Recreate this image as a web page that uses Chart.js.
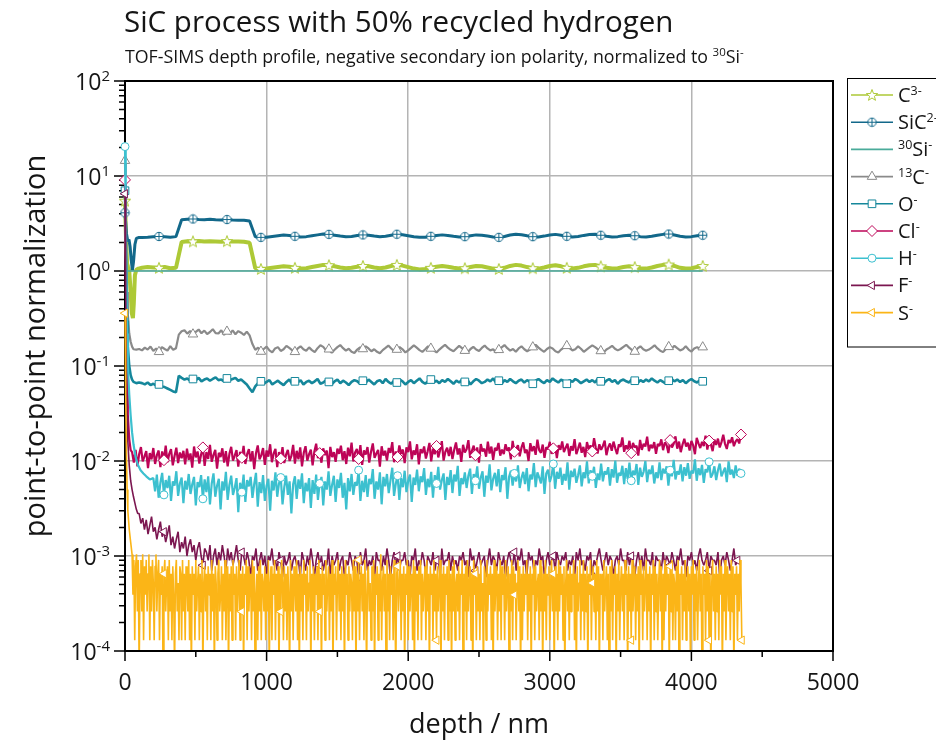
<!DOCTYPE html>
<html>
<head>
<meta charset="utf-8">
<script src="https://cdn.jsdelivr.net/npm/chart.js@4.4.1/dist/chart.umd.min.js"></script>
<style>
    html, body { margin: 0; background: #fff; }
    canvas { display: block; }
</style>
</head>
<body>
<canvas id="chart" width="936" height="743" style="width:936px;height:743px"></canvas>
<script>
// TOF-SIMS depth profile

const xTickValues = [0, 1000, 2000, 3000, 4000, 5000];
const xMinorValues = [500, 1500, 2500, 3500, 4500];
const yTickValues = [1e-4, 1e-3, 1e-2, 1e-1, 1, 10, 100];
const yTickExponents = ['-4', '-3', '-2', '-1', '0', '1', '2'];

// near-surface part of every profile: depth (nm) and ratio
const c3SurfDepth = [0, 8, 15, 22, 30, 40, 48, 56, 62, 70, 80, 95];
const c3SurfValue = [5.5, 2.0, 1.2, 1.1, 1.0, 0.6, 0.36, 0.32, 0.45, 0.9, 1.03, 1.06];
const sicSurfDepth = [0, 10, 20, 28, 36, 44, 52, 60, 70, 80, 95];
const sicSurfValue = [4.1, 2.5, 2.05, 2.15, 1.8, 1.3, 1.02, 1.25, 1.9, 2.2, 2.25];
const si30Depth = [0, 4080];
const si30Value = [1, 1];
const c13SurfDepth = [0, 5, 10, 15, 20, 30, 40, 50, 60, 80, 100];
const c13SurfValue = [14.5, 4, 1.3, 0.6, 0.35, 0.22, 0.18, 0.16, 0.15, 0.149, 0.151];
const oSurfDepth = [0, 5, 10, 15, 20, 30, 40, 50, 60, 80, 100];
const oSurfValue = [7.0, 2.2, 0.7, 0.3, 0.16, 0.1, 0.08, 0.072, 0.068, 0.066, 0.067];
const clSurfDepth = [0, 5, 10, 15, 20, 30, 40];
const clSurfValue = [9.1, 1.2, 0.25, 0.07, 0.03, 0.017, 0.013];
const hSurfDepth = [0, 5, 10, 15, 20, 30, 40, 50, 60, 75, 90, 110, 130, 150, 175];
const hSurfValue = [20.4, 4, 0.8, 0.22, 0.1, 0.05, 0.03, 0.02, 0.015, 0.011, 0.0092, 0.008, 0.0074, 0.0069, 0.0064];
const fSurfDepth = [0, 5, 10, 15, 20, 30, 40, 50, 60, 70, 80, 90];
const fSurfValue = [6.5, 0.6, 0.08, 0.03, 0.016, 0.009, 0.0062, 0.005, 0.0042, 0.0036, 0.0031, 0.0028];
const sSurfDepth = [0, 5, 10, 15, 20, 30, 40];
const sSurfValue = [0.36, 0.05, 0.012, 0.005, 0.003, 0.0019, 0.0014];

// bulk part, one value per sputter cycle
// C3- and SiC2-: from 120 nm every 40 nm
const c3Bulk = [
    1.08, 1.10, 1.09, 1.08, 1.10, 1.07, 1.08,
    2.02, 2.06, 2.05, 2.07, 2.04, 2.06, 2.05, 2.03, 2.06, 2.04, 2.05, 2.03, 1.98,
    1.07, 1.05, 1.06, 1.08, 1.10, 1.12, 1.11, 1.08, 1.06, 1.07,
    1.10, 1.13, 1.16, 1.15, 1.12, 1.09, 1.07, 1.08, 1.11, 1.13,
    1.12, 1.09, 1.07, 1.09, 1.13, 1.16, 1.14, 1.10, 1.06, 1.04,
    1.05, 1.08, 1.11, 1.13, 1.11, 1.08, 1.06, 1.07, 1.10, 1.13,
    1.12, 1.09, 1.06, 1.05, 1.08, 1.13, 1.16, 1.14, 1.10, 1.07,
    1.06, 1.09, 1.13, 1.15, 1.12, 1.08, 1.06, 1.08, 1.12, 1.15,
    1.16, 1.12, 1.08, 1.06, 1.07, 1.10, 1.12, 1.10, 1.07, 1.06,
    1.09, 1.13, 1.16, 1.17, 1.13, 1.08, 1.06, 1.07, 1.10, 1.13
];
const sicBulk = [
    2.25, 2.27, 2.30, 2.31, 2.29, 2.26, 2.30,
    3.46, 3.50, 3.53, 3.49, 3.47, 3.51, 3.46, 3.45, 3.48, 3.44, 3.43, 3.42, 3.36,
    2.29, 2.26, 2.27, 2.31, 2.35, 2.39, 2.37, 2.32, 2.28, 2.30,
    2.35, 2.40, 2.45, 2.43, 2.38, 2.33, 2.29, 2.31, 2.36, 2.40,
    2.38, 2.33, 2.29, 2.32, 2.38, 2.44, 2.41, 2.35, 2.29, 2.26,
    2.27, 2.32, 2.37, 2.40, 2.37, 2.32, 2.28, 2.30, 2.35, 2.40,
    2.38, 2.33, 2.28, 2.26, 2.31, 2.39, 2.44, 2.41, 2.35, 2.30,
    2.28, 2.33, 2.39, 2.43, 2.38, 2.32, 2.28, 2.31, 2.37, 2.42,
    2.44, 2.38, 2.32, 2.28, 2.30, 2.35, 2.38, 2.35, 2.30, 2.28,
    2.32, 2.38, 2.43, 2.45, 2.39, 2.32, 2.28, 2.30, 2.35, 2.38
];
// 13C- and O-: from 120 nm every 20 nm, in units of 1e-3
const c13Bulk = [
    146, 156, 149, 160, 144, 153, 141, 158, 151, 145, 162, 148, 154,
    214, 232, 238, 219, 234, 216, 229, 242, 221, 236, 217, 228, 244, 222, 220, 238, 213, 231, 218, 237, 216, 233, 224, 212, 230, 210,
    170, 148, 156, 142, 151, 160, 146, 139, 153, 158, 144, 150, 163, 155, 147, 141, 153, 161, 150, 145,
    157, 147, 140, 154, 165, 159, 146, 150, 138, 148, 158, 166, 154, 145, 152, 141, 137, 149, 157, 151,
    161, 153, 143, 150, 141, 136, 147, 155, 164, 153, 144, 149, 158, 150, 139, 146, 155, 165, 156, 147,
    141, 150, 161, 153, 146, 139, 149, 158, 167, 156, 148, 143, 153, 163, 154, 145, 139, 151, 159, 149,
    144, 155, 164, 153, 146, 150, 139, 148, 157, 166, 154, 145, 151, 141, 153, 161, 150, 143, 149, 158,
    167, 156, 148, 141, 151, 158, 153, 143, 139, 149, 157, 163, 154, 146, 150, 161, 152, 141, 149, 157,
    165, 158, 150, 144, 139, 149, 155, 163, 152, 146, 151, 159, 167, 156, 148, 142, 153, 161, 150, 145,
    149, 156, 165, 153, 145, 140, 151, 159, 152, 163, 154, 146, 150, 161, 149, 142, 153, 158, 151, 158
];
const oBulk = [
    66, 64, 67, 63, 65, 62, 64, 61, 60, 58, 56, 54, 53,
    79, 75, 72, 74, 70, 73, 71, 75, 69, 72, 74, 70, 73, 76, 71, 72, 69, 74, 71, 73, 75, 70, 72, 68, 64, 58,
    53, 61, 66, 69, 65, 68, 71, 64, 67, 70, 66, 63, 68, 72, 65, 69, 67, 71, 64, 68,
    70, 66, 69, 73, 65, 67, 71, 68, 64, 69, 72, 66, 70, 67, 63, 68, 71, 69, 65, 70,
    67, 72, 68, 64, 69, 71, 66, 73, 68, 65, 70, 67, 72, 69, 64, 68, 71, 66, 70, 74,
    68, 65, 69, 72, 67, 70, 66, 71, 68, 73, 69, 65, 70, 67, 72, 68, 71, 64, 69, 73,
    70, 66, 68, 72, 69, 74, 67, 70, 65, 71, 68, 73, 69, 66, 70, 72, 67, 71, 68, 65,
    70, 73, 69, 66, 71, 68, 74, 70, 67, 72, 69, 65, 71, 68, 73, 70, 66, 69, 72, 68,
    71, 67, 74, 69, 66, 70, 73, 68, 71, 65, 70, 72, 69, 67, 73, 70, 66, 71, 68, 72,
    69, 74, 70, 67, 71, 68, 65, 70, 73, 69, 72, 68, 71, 66, 70, 73, 69, 67, 71, 69
];
// Cl-: from 50 nm every 12.5 nm, units of 1e-4
const clBulk = [
    124, 96, 131, 88, 118, 140, 99, 112, 127, 84, 121, 104, 137, 93, 115, 129, 86, 126, 102, 145, 97, 119, 133, 90, 113, 138, 95, 123, 107, 128,
    92, 135, 103, 120, 85, 142, 109, 126, 94, 117, 139, 89, 124, 105, 148, 98, 116, 131, 83, 122, 110, 136, 96, 127, 88, 119, 141, 101, 114, 130,
    87, 125, 108, 144, 93, 118, 133, 99, 127, 82, 121, 146, 104, 115, 137, 91, 129, 111, 150, 97, 120, 134, 86, 124, 106, 140, 95, 117, 131, 100,
    113, 148, 94, 128, 104, 139, 88, 122, 143, 101, 118, 132, 90, 126, 152, 107, 121, 96, 136, 115, 129, 84, 141, 110, 124, 98, 135, 119, 145, 102,
    127, 93, 138, 112, 156, 99, 123, 134, 105, 147, 91, 129, 117, 140, 96, 125, 153, 108, 120, 131, 87, 143, 114, 128, 101, 137, 122, 158, 97, 126,
    110, 146, 119, 132, 95, 139, 124, 161, 104, 129, 116, 150, 92, 133, 121, 142, 106, 127, 155, 99, 135, 118, 144, 109, 130, 162, 101, 125, 138, 113,
    141, 105, 131, 157, 117, 136, 98, 148, 123, 133, 166, 108, 128, 145, 115, 139, 96, 151, 126, 135, 111, 160, 120, 142, 103, 137, 129, 155, 114, 132,
    118, 150, 128, 139, 104, 163, 125, 134, 147, 112, 138, 157, 121, 132, 100, 154, 127, 143, 116, 168, 130, 122, 149, 108, 140, 133, 159, 119, 136, 145,
    107, 147, 131, 161, 124, 138, 152, 113, 143, 129, 170, 118, 135, 156, 122, 141, 110, 158, 133, 146, 126, 174, 137, 120, 150, 131, 144, 164, 115, 139,
    153, 128, 160, 136, 118, 149, 141, 177, 125, 146, 133, 163, 121, 155, 139, 145, 114, 167, 131, 152, 142, 180, 127, 148, 136, 158, 119, 151, 144, 169,
    130, 157, 147, 121, 166, 139, 152, 182, 135, 160, 124, 149, 171, 142, 156, 129, 163, 146, 118, 175, 153, 137, 159, 144, 185, 132, 164, 150, 127, 168,
    148, 172, 139, 158, 189, 151, 134, 166, 155, 178, 143, 161, 170, 153, 190
];
// H-: from 200 nm every 12.5 nm, units of 1e-4
const hBulk = [
    66, 48, 72, 41, 59, 75, 44, 63, 52, 70, 38, 61, 55, 78, 43, 58, 67, 36, 62, 50, 73, 45, 57, 68, 34, 60, 53, 71, 40, 64,
    47, 69, 35, 58, 74, 42, 55, 65, 31, 61, 49, 77, 39, 56, 70, 44, 52, 66, 29, 59, 47, 72, 37, 63, 54, 68, 41, 57, 75, 33,
    60, 46, 71, 38, 55, 65, 30, 62, 49, 76, 42, 58, 67, 35, 53, 70, 44, 61, 28, 57, 69, 40, 64, 51, 74, 36, 59, 48, 66, 32,
    63, 45, 72, 39, 58, 68, 34, 61, 50, 78, 43, 56, 70, 37, 64, 52, 75, 41, 59, 31, 66, 48, 73, 44, 60, 55, 80, 38, 62, 47,
    71, 42, 65, 57, 82, 40, 61, 50, 76, 35, 68, 54, 73, 46, 63, 85, 43, 58, 70, 39, 66, 53, 79, 47, 62, 72, 37, 67, 56, 81,
    48, 69, 60, 84, 44, 65, 53, 77, 41, 71, 58, 87, 50, 63, 74, 39, 68, 56, 80, 46, 72, 61, 89, 43, 66, 57, 76, 52, 70, 83,
    45, 73, 62, 88, 51, 67, 78, 42, 70, 59, 92, 49, 65, 75, 54, 82, 47, 71, 63, 86, 40, 68, 79, 55, 74, 61, 90, 52, 66, 77,
    57, 84, 48, 72, 64, 95, 53, 76, 67, 58, 88, 45, 74, 81, 60, 70, 93, 51, 77, 65, 85, 56, 73, 62, 97, 50, 79, 68, 83, 59,
    71, 90, 54, 76, 66, 99, 58, 80, 69, 87, 52, 74, 63, 94, 61, 78, 72, 86, 55, 82, 67, 101, 59, 75, 70, 89, 57, 84, 65, 96,
    62, 79, 71, 93, 56, 85, 68, 77, 100, 60, 81, 73, 90, 58, 76, 66, 97, 63, 83, 74, 88, 55, 80, 69, 103, 64, 78, 72, 92, 61,
    86, 70, 95, 65, 79, 74, 104, 62, 84, 71, 91, 59, 82, 76, 98, 67, 73, 88, 63, 80, 94, 69, 77, 85, 60, 99, 72, 81, 66, 90,
    70, 83, 74
];
// F-: from 100 nm every 12.5 nm, units of 1e-4
const fBulk = [
    28, 22, 25, 19, 24, 17, 21, 26, 18, 20, 15, 19, 23, 16, 18, 14, 17, 21, 13, 16, 12, 15, 18, 11, 14, 12, 16, 10, 13, 15,
    11, 13, 9, 12, 14, 10, 8, 12, 11, 9, 13, 7, 10, 12, 8, 11, 9, 13, 10, 7, 12, 9, 11, 8, 10, 13, 9, 7, 11, 10,
    8, 11, 9, 6, 10, 9, 12, 7, 9, 11, 8, 10, 6, 10, 9, 12, 8, 9, 7, 11, 9, 6, 10, 8, 9, 11, 7, 9, 10, 8,
    9, 6, 11, 9, 7, 10, 8, 12, 9, 6, 9, 11, 8, 10, 7, 9, 8, 12, 6, 10, 8, 9, 11, 7, 9, 10, 6, 9, 8, 11,
    9, 7, 10, 9, 6, 11, 8, 9, 12, 7, 9, 8, 10, 6, 11, 9, 9, 7, 10, 8, 12, 9, 6, 9, 11, 8, 10, 7, 9, 9,
    11, 8, 9, 6, 10, 9, 12, 7, 9, 8, 11, 9, 6, 10, 9, 8, 11, 7, 9, 10, 6, 12, 8, 9, 9, 11, 7, 10, 8, 9,
    7, 10, 9, 11, 8, 9, 6, 12, 9, 10, 7, 9, 11, 8, 9, 10, 6, 9, 12, 8, 10, 9, 7, 11, 9, 8, 10, 6, 9, 11,
    9, 8, 11, 7, 10, 9, 12, 8, 9, 6, 11, 9, 10, 7, 9, 8, 12, 9, 10, 6, 9, 11, 8, 9, 10, 7, 11, 9, 8, 10,
    9, 11, 7, 9, 8, 10, 6, 11, 9, 12, 8, 9, 7, 10, 9, 11, 6, 9, 8, 10, 12, 9, 7, 9, 11, 8, 10, 9, 6, 9,
    10, 8, 12, 9, 9, 7, 11, 8, 10, 9, 6, 9, 11, 8, 10, 7, 12, 9, 9, 8, 11, 6, 10, 9, 9, 7, 11, 8, 10, 9,
    8, 11, 9, 7, 10, 9, 12, 8, 9, 6, 10, 9, 11, 8, 9, 7, 10, 12, 9, 8, 9, 11, 7, 10, 9, 9, 8, 11, 6, 9,
    10, 8, 11, 9, 7, 9, 12, 8, 9
];
// S-: from 50 nm every 6.25 nm, in counts of 1.3e-4 (0 = nothing detected)
const sBulk = [
    8, 3, 7, 1, 6, 8, 2, 7, 0, 5, 7, 2, 8, 1, 6, 3, 7, 2, 5, 8, 1, 6, 2, 7, 4, 1, 6, 8, 2, 5,
    7, 1, 5, 3, 6, 0, 5, 7, 2, 4, 6, 1, 7, 2, 5, 1, 6, 3, 0, 5, 7, 2, 4, 1, 6, 5, 1, 7, 2, 5,
    1, 6, 4, 2, 7, 1, 5, 0, 6, 3, 5, 1, 7, 2, 4, 6, 1, 5, 2, 7, 0, 4, 6, 2, 5, 1, 6, 3, 5, 1,
    7, 2, 5, 0, 6, 4, 1, 5, 7, 2, 3, 6, 1, 5, 2, 7, 1, 4, 6, 0, 5, 2, 6, 1, 7, 3, 5, 1, 6, 2,
    4, 7, 1, 5, 2, 6, 0, 5, 3, 7, 1, 6, 2, 4, 5, 1, 7, 2, 6, 0, 3, 5, 1, 6, 2, 7, 1, 5, 4, 2,
    6, 1, 5, 2, 7, 0, 4, 6, 1, 5, 3, 7, 1, 5, 2, 6, 0, 5, 2, 7, 4, 1, 6, 2, 5, 1, 6, 3, 0, 7,
    2, 5, 1, 6, 4, 2, 7, 1, 5, 0, 6, 2, 5, 1, 7, 3, 5, 1, 6, 2, 4, 7, 0, 5, 2, 6, 1, 5, 3, 6,
    1, 7, 2, 5, 0, 6, 3, 5, 1, 7, 2, 4, 6, 1, 5, 2, 7, 0, 5, 3, 6, 1, 4, 7, 2, 5, 1, 6, 2, 5,
    0, 7, 3, 5, 1, 6, 2, 5, 4, 1, 7, 2, 6, 0, 5, 2, 7, 1, 4, 6, 2, 5, 1, 7, 3, 0, 5, 6, 2, 4,
    1, 6, 2, 7, 0, 5, 3, 6, 1, 5, 2, 8, 1, 4, 6, 2, 5, 0, 7, 2, 5, 1, 6, 3, 5, 1, 7, 2, 0, 5,
    6, 2, 4, 7, 1, 5, 2, 6, 0, 5, 3, 7, 1, 6, 2, 4, 5, 1, 7, 0, 6, 2, 5, 1, 6, 3, 7, 1, 5, 2,
    4, 6, 1, 7, 2, 5, 0, 6, 3, 5, 1, 7, 2, 5, 1, 6, 2, 4, 7, 0, 5, 2, 6, 1, 5, 3, 6, 1, 7, 2,
    5, 0, 6, 2, 7, 1, 4, 5, 2, 6, 1, 5, 3, 7, 0, 5, 2, 6, 1, 7, 2, 4, 6, 1, 5, 0, 7, 3, 5, 1,
    6, 2, 5, 1, 7, 2, 4, 0, 6, 5, 1, 7, 2, 5, 3, 6, 1, 5, 0, 7, 2, 4, 6, 1, 5, 2, 7, 1, 6, 3,
    5, 1, 7, 2, 4, 6, 0, 5, 2, 7, 1, 6, 3, 5, 1, 4, 7, 2, 6, 0, 5, 1, 6, 2, 5, 3, 7, 1, 5, 2,
    6, 0, 5, 3, 7, 1, 6, 2, 4, 5, 1, 7, 2, 6, 0, 5, 2, 7, 1, 5, 3, 6, 1, 4, 7, 2, 5, 0, 6, 2,
    5, 1, 7, 2, 6, 3, 5, 1, 6, 0, 4, 7, 2, 5, 1, 6, 2, 5, 3, 7, 1, 5, 0, 6, 2, 4, 7, 1, 5, 2,
    7, 1, 5, 2, 6, 0, 5, 3, 7, 1, 4, 6, 2, 5, 1, 7, 2, 6, 0, 5, 3, 5, 1, 7, 2, 4, 6, 1, 5, 0,
    6, 2, 7, 1, 5, 3, 6, 0, 5, 2, 7, 1, 4, 6, 2, 5, 1, 7, 3, 5, 0, 6, 2, 5, 1, 7, 2, 4, 6, 1,
    5, 2, 6, 0, 7, 3, 5, 1, 6, 2, 4, 7, 1, 5, 2, 6, 0, 5, 3, 7, 1, 6, 2, 5, 1, 4, 7, 2, 6, 0,
    5, 1, 7, 2, 6, 3, 5, 0, 6, 2, 7, 1, 5, 4, 1, 6, 2, 7, 0, 5, 3, 6, 1, 5, 2, 7, 1, 4, 6, 2,
    5, 0, 6, 3, 7, 1, 5, 2, 6, 1, 4, 7, 2, 5, 0, 6, 3, 5, 1, 7, 2, 6, 1, 5, 0, 4, 7, 2, 5, 1,
    6, 2, 5, 1, 7, 3, 6, 0, 5, 2, 7, 1, 4, 6, 2, 5, 1, 7, 2, 6, 0, 5, 3, 6, 1, 5, 2, 7, 4, 1
];
// a zero count cannot sit on a log axis: it is drawn just under the bottom edge
const notDetected = 6e-5;

const FONT = '"Open Sans", "Noto Sans", sans-serif';
const TEXT = '#151515';

function buildPoints(surfDepth, surfValue, start, step, bulk, unit) {
    const pts = surfDepth.map((d, i) => ({ x: d, y: surfValue[i] }));
    bulk.forEach((v, i) => pts.push({ x: start + i * step, y: v === 0 ? notDetected : v * unit }));
    return pts;
}

// custom markers
function makeStar(color) {
    const c = document.createElement('canvas');
    c.width = 14; c.height = 14;
    const g = c.getContext('2d');
    g.beginPath();
    for (let i = 0; i < 10; i++) {
        const r = i % 2 ? 2.5 : 6;
        const a = -Math.PI / 2 + i * Math.PI / 5;
        g.lineTo(7 + r * Math.cos(a), 7.5 + r * Math.sin(a));
    }
    g.closePath();
    g.fillStyle = '#fff'; g.fill();
    g.strokeStyle = color; g.lineWidth = 1; g.stroke();
    return c;
}
function makeCirclePlus(color) {
    const c = document.createElement('canvas');
    c.width = 11; c.height = 11;
    const g = c.getContext('2d');
    g.beginPath(); g.arc(5.5, 5.5, 4.2, 0, Math.PI * 2);
    g.fillStyle = '#fff'; g.fill();
    g.strokeStyle = color; g.lineWidth = 1; g.stroke();
    g.beginPath();
    g.moveTo(1.3, 5.5); g.lineTo(9.7, 5.5);
    g.moveTo(5.5, 1.3); g.lineTo(5.5, 9.7);
    g.stroke();
    return c;
}

const series = [
    { label: [['C'], ['3-', 1]], color: '#adc936', width: 4, mark: 'star', every: 240,
      data: buildPoints(c3SurfDepth, c3SurfValue, 120, 40, c3Bulk, 1) },
    { label: [['SiC'], ['2-', 1]], color: '#12688a', width: 3, mark: 'cplus', every: 240,
      data: buildPoints(sicSurfDepth, sicSurfValue, 120, 40, sicBulk, 1) },
    { label: [['30', 1], ['Si'], ['-', 1]], color: '#4aab9a', width: 1.6, mark: null, every: 0,
      data: si30Depth.map((d, i) => ({ x: d, y: si30Value[i] })) },
    { label: [['13', 1], ['C'], ['-', 1]], color: '#8a8a8a', width: 2.2, mark: 'triangle', every: 240,
      data: buildPoints(c13SurfDepth, c13SurfValue, 120, 20, c13Bulk, 1e-3) },
    { label: [['O'], ['-', 1]], color: '#15879b', width: 2.6, mark: 'square', every: 240,
      data: buildPoints(oSurfDepth, oSurfValue, 120, 20, oBulk, 1e-3) },
    { label: [['Cl'], ['-', 1]], color: '#bd0457', width: 2.2, mark: 'diamond', every: 275,
      data: buildPoints(clSurfDepth, clSurfValue, 50, 12.5, clBulk, 1e-4) },
    { label: [['H'], ['-', 1]], color: '#3cc0cf', width: 2.2, mark: 'circle', every: 275,
      data: buildPoints(hSurfDepth, hSurfValue, 200, 12.5, hBulk, 1e-4) },
    { label: [['F'], ['-', 1]], color: '#7b1650', width: 1.6, mark: 'left', every: 275,
      data: buildPoints(fSurfDepth, fSurfValue, 100, 12.5, fBulk, 1e-4) },
    { label: [['S'], ['-', 1]], color: '#fbb517', width: 1.6, mark: 'left', every: 275,
      data: buildPoints(sSurfDepth, sSurfValue, 50, 6.25, sBulk, 1.3e-4) }
];

const markImages = {};
series.forEach((s, i) => {
    if (s.mark === 'star') markImages[i] = makeStar(s.color);
    if (s.mark === 'cplus') markImages[i] = makeCirclePlus(s.color);
});

function pointStyleOf(s, i) {
    switch (s.mark) {
        case 'star':
        case 'cplus': return markImages[i];
        case 'triangle': return 'triangle';
        case 'left': return 'triangle';
        case 'square': return 'rect';
        case 'diamond': return 'rectRot';
        default: return 'circle';
    }
}
const markRadius = { star: 5, cplus: 5, triangle: 5.5, left: 4.8, square: 5.4, diamond: 5.5, circle: 4 };

function markerRadius(s) {
    return ctx => {
        if (!s.mark || !ctx.raw) return 0;
        const last = ctx.dataset.data.length - 1;
        const on = ctx.dataIndex === last || Math.abs(ctx.raw.x % s.every) < 1e-6;
        return on ? markRadius[s.mark] : 0;
    };
}

// text with superscripts: parts = [[text, isSup], ...]
function richText(ctx, parts, x, y, align, size, supSize, rise) {
    let w = 0;
    parts.forEach(p => {
        ctx.font = (p[1] ? supSize : size) + 'px ' + FONT;
        w += ctx.measureText(p[0]).width;
    });
    let cx = align === 'right' ? x - w : align === 'center' ? x - w / 2 : x;
    ctx.textAlign = 'left';
    ctx.textBaseline = 'alphabetic';
    parts.forEach(p => {
        ctx.font = (p[1] ? supSize : size) + 'px ' + FONT;
        ctx.fillText(p[0], cx, p[1] ? y - rise : y);
        cx += ctx.measureText(p[0]).width;
    });
}

function drawMark(ctx, s, i, x, y) {
    if (!s.mark) return;
    if (markImages[i]) {
        const im = markImages[i];
        ctx.drawImage(im, x - im.width / 2, y - im.height / 2);
        return;
    }
    const r = markRadius[s.mark];
    ctx.save();
    ctx.fillStyle = '#fff';
    ctx.strokeStyle = s.color;
    ctx.lineWidth = 1;
    ctx.beginPath();
    if (s.mark === 'circle') {
        ctx.arc(x, y, r, 0, Math.PI * 2);
    } else if (s.mark === 'square') {
        const h = r * Math.SQRT1_2;
        ctx.rect(x - h, y - h, 2 * h, 2 * h);
    } else if (s.mark === 'diamond') {
        ctx.moveTo(x, y - r); ctx.lineTo(x + r, y); ctx.lineTo(x, y + r); ctx.lineTo(x - r, y);
        ctx.closePath();
    } else if (s.mark === 'triangle') {
        ctx.moveTo(x, y - r);
        ctx.lineTo(x + r * 0.866, y + r * 0.5);
        ctx.lineTo(x - r * 0.866, y + r * 0.5);
        ctx.closePath();
    } else if (s.mark === 'left') {
        ctx.moveTo(x - r, y);
        ctx.lineTo(x + r * 0.5, y - r * 0.866);
        ctx.lineTo(x + r * 0.5, y + r * 0.866);
        ctx.closePath();
    }
    ctx.fill();
    ctx.stroke();
    ctx.restore();
}

const framePlugin = {
    id: 'frame',
    beforeDatasetsDraw(chart) {
        const { ctx, chartArea: a, scales } = chart;
        ctx.save();
        ctx.strokeStyle = '#000';
        ctx.lineWidth = 1.5;
        ctx.beginPath();
        // y ticks, major and minor, outside
        for (let e = -4; e <= 2; e++) {
            const py = scales.y.getPixelForValue(Math.pow(10, e));
            ctx.moveTo(a.left - 11, py); ctx.lineTo(a.left, py);
            if (e < 2) {
                for (let m = 2; m <= 9; m++) {
                    const my = scales.y.getPixelForValue(m * Math.pow(10, e));
                    ctx.moveTo(a.left - 6, my); ctx.lineTo(a.left, my);
                }
            }
        }
        xTickValues.forEach(v => {
            const px = scales.x.getPixelForValue(v);
            ctx.moveTo(px, a.bottom); ctx.lineTo(px, a.bottom + 10);
        });
        xMinorValues.forEach(v => {
            const px = scales.x.getPixelForValue(v);
            ctx.moveTo(px, a.bottom); ctx.lineTo(px, a.bottom + 6);
        });
        ctx.stroke();
        ctx.lineWidth = 2;
        ctx.strokeRect(a.left, a.top, a.right - a.left, a.bottom - a.top);
        ctx.restore();
    },
    afterDraw(chart) {
        const { ctx, chartArea: a, scales } = chart;
        ctx.save();
        // bottom axis line again on top of the sulfur band
        ctx.strokeStyle = '#000';
        ctx.lineWidth = 2;
        ctx.beginPath();
        ctx.moveTo(a.left - 1, a.bottom); ctx.lineTo(a.right + 1, a.bottom);
        ctx.stroke();

        ctx.fillStyle = TEXT;
        // titles
        richText(ctx, [['SiC process with 50% recycled hydrogen']], 124, 32, 'left', 29.5, 18, 0);
        richText(ctx, [['TOF-SIMS depth profile, negative secondary ion polarity, normalized to '], ['30', 1], ['Si'], ['-', 1]],
            125, 63, 'left', 17.8, 11.5, 7);

        // x tick labels
        xTickValues.forEach(v => {
            richText(ctx, [[String(v)]], scales.x.getPixelForValue(v), 690, 'center', 23, 15, 0);
        });
        // y tick labels
        yTickValues.forEach((v, i) => {
            const py = scales.y.getPixelForValue(v);
            richText(ctx, [['10'], [yTickExponents[i], 1]], 110, py + 9, 'right', 23, 15, 9);
        });

        // axis titles
        richText(ctx, [['depth / nm']], 479, 733, 'center', 27, 18, 0);
        ctx.save();
        ctx.translate(45, 346);
        ctx.rotate(-Math.PI / 2);
        richText(ctx, [['point-to-point normalization']], 0, 0, 'center', 29, 18, 0);
        ctx.restore();

        // legend
        ctx.strokeStyle = '#000';
        ctx.lineWidth = 1;
        ctx.strokeRect(847.5, 78.5, 120, 268.5);
        series.forEach((s, i) => {
            const y = 95 + i * 27.2;
            ctx.strokeStyle = s.color;
            ctx.lineWidth = 1.6;
            ctx.beginPath();
            ctx.moveTo(851, y); ctx.lineTo(893, y);
            ctx.stroke();
            drawMark(ctx, s, i, 872, y);
            ctx.fillStyle = TEXT;
            richText(ctx, s.label, 898, y + 7, 'left', 20, 12.5, 7);
        });
        ctx.restore();
    }
};

const datasets = series.map((s, i) => ({
    label: s.label.map(p => p[0]).join(''),
    data: s.data,
    borderColor: s.color,
    borderWidth: s.width,
    backgroundColor: s.color,
    pointStyle: pointStyleOf(s, i),
    pointRotation: s.mark === 'left' ? 270 : 0,
    pointRadius: markerRadius(s),
    pointBackgroundColor: '#fff',
    pointBorderColor: s.color,
    pointBorderWidth: 1,
    tension: 0,
    borderJoinStyle: 'bevel',
    fill: false,
    clip: { left: 10, top: 10, right: 10, bottom: 0 },
    order: series.length - i
}));

new Chart(document.getElementById('chart'), {
    type: 'line',
    data: { datasets },
    options: {
        responsive: false,
        animation: false,
        events: [],
        layout: { padding: { left: 125, top: 81, right: 103, bottom: 92 } },
        plugins: {
            legend: { display: false },
            tooltip: { enabled: false },
            title: { display: false }
        },
        scales: {
            x: {
                type: 'linear',
                min: 0,
                max: 5000,
                ticks: { display: false, stepSize: 1000 },
                grid: { color: '#b4b4b4', lineWidth: 1.5, drawTicks: false },
                border: { display: false },
                afterFit(scale) { scale.height = 0; }
            },
            y: {
                type: 'logarithmic',
                min: 1e-4,
                max: 100,
                ticks: { display: false },
                afterBuildTicks(scale) { scale.ticks = yTickValues.map(v => ({ value: v })); },
                grid: { color: '#b4b4b4', lineWidth: 1.5, drawTicks: false },
                border: { display: false },
                afterFit(scale) { scale.width = 0; }
            }
        }
    },
    plugins: [framePlugin]
});
</script>
</body>
</html>
